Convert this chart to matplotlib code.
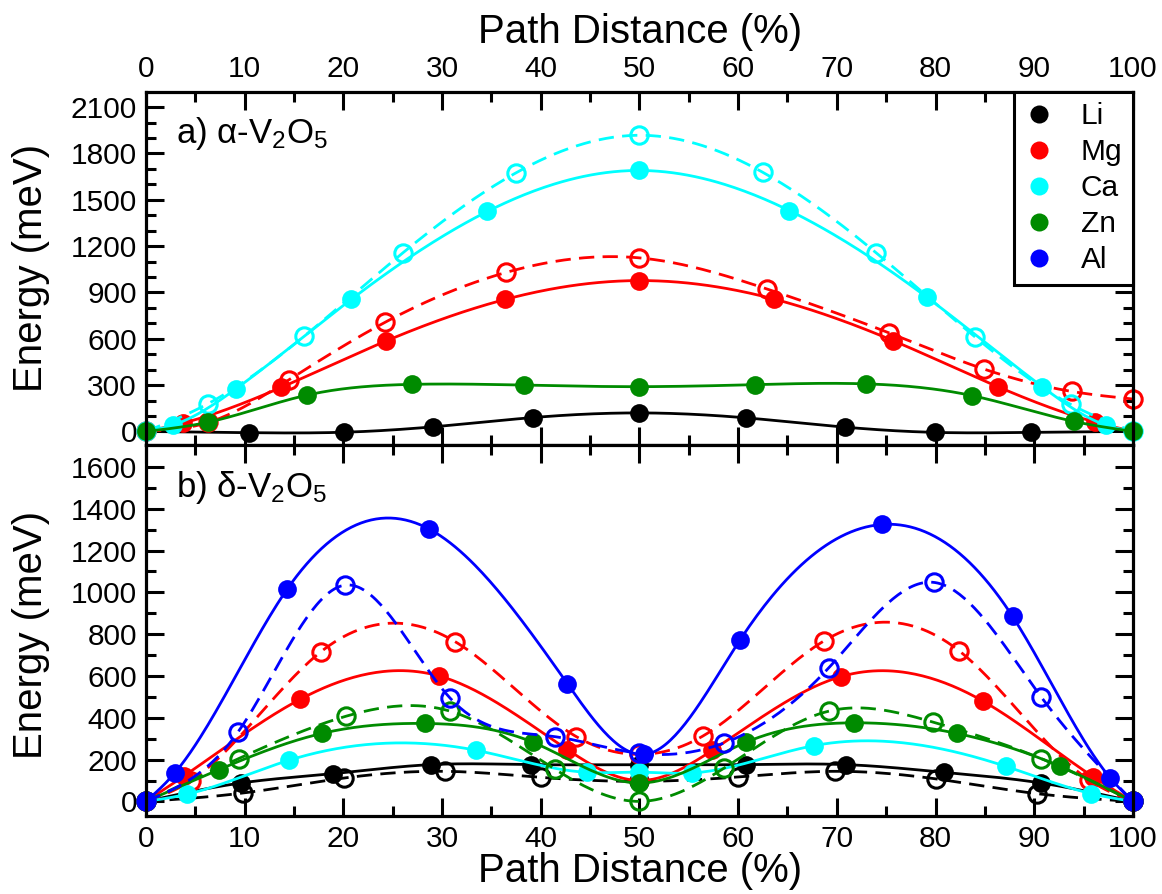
import numpy as np
import matplotlib.pyplot as plt
from matplotlib.lines import Line2D

plt.rcParams['font.family'] = ['Liberation Sans', 'DejaVu Sans']
plt.rcParams['mathtext.fontset'] = 'custom'
plt.rcParams['mathtext.rm'] = 'Liberation Sans'
plt.rcParams['mathtext.it'] = 'Liberation Sans:italic'
plt.rcParams['lines.scale_dashes'] = False

ions = ['Li', 'Mg', 'Ca', 'Zn', 'Al']
colors = {'Li': 'black', 'Mg': 'red', 'Ca': 'cyan', 'Zn': '#008b00', 'Al': 'blue'}

# a) alpha-V2O5 : filled = solid line, open = dashed line
a_li_x = [0, 10.4, 20.1, 29.1, 39.2, 50, 60.8, 70.8, 79.9, 89.7, 100]
a_li_y = [0, -8, -5, 30, 90, 120, 88, 28, -6, -6, 0]
a_mg_x = [0, 3.8, 13.7, 24.3, 36.4, 50, 63.6, 75.7, 86.3, 96.2, 100]
a_mg_y = [0, 55, 285, 585, 855, 977, 858, 588, 290, 60, 0]
a_mg_open_x = [0, 6.3, 14.5, 24.2, 36.5, 50, 62.9, 75.3, 84.9, 93.8, 100]
a_mg_open_y = [0, 58, 335, 706, 1030, 1124, 923, 638, 404, 259, 210]
a_ca_x = [0, 2.7, 9.1, 20.8, 34.6, 50, 65.2, 79.1, 90.8, 97.3, 100]
a_ca_y = [0, 40, 275, 855, 1425, 1690, 1430, 870, 290, 40, 0]
a_ca_open_x = [0, 6.3, 16.0, 26.0, 37.5, 50, 62.5, 74.0, 84.0, 93.7, 100]
a_ca_open_y = [0, 180, 615, 1155, 1675, 1918, 1678, 1156, 612, 175, 0]
a_zn_x = [0, 6.3, 16.3, 27.0, 38.3, 50, 61.7, 73.0, 83.7, 94.0, 100]
a_zn_y = [0, 60, 235, 305, 300, 290, 303, 308, 232, 65, 0]

# b) delta-V2O5
b_li_x = [0, 9.6, 19.0, 28.9, 39.0, 50, 60.8, 70.9, 80.9, 90.7, 100]
b_li_y = [0, 88, 133, 176, 176, 176, 176, 176, 139, 88, 0]
b_li_open_x = [0, 9.8, 20.1, 30.3, 40.0, 50, 60.0, 69.8, 80.0, 90.3, 100]
b_li_open_y = [0, 40, 112, 144, 115, 96, 117, 144, 108, 37, 0]
b_mg_x = [0, 3.9, 15.6, 29.7, 42.7, 50, 57.4, 70.4, 84.8, 96.0, 100]
b_mg_y = [0, 123, 488, 600, 248, 100, 245, 597, 480, 117, 0]
b_mg_open_x = [0, 4.6, 17.7, 31.3, 43.6, 50, 56.4, 68.7, 82.4, 95.5, 100]
b_mg_open_y = [0, 100, 715, 765, 310, 225, 312, 768, 720, 104, 0]
b_ca_x = [0, 4.2, 14.5, 33.4, 44.7, 50, 55.3, 67.7, 87.1, 95.8, 100]
b_ca_y = [0, 35, 197, 245, 139, 140, 136, 267, 168, 37, 0]
b_zn_x = [0, 7.4, 17.8, 28.3, 39.2, 50, 60.8, 71.7, 82.2, 92.6, 100]
b_zn_y = [0, 152, 325, 373, 283, 88, 283, 376, 325, 168, 0]
b_zn_open_x = [0, 9.4, 20.3, 30.8, 41.4, 50, 58.6, 69.2, 79.7, 90.7, 100]
b_zn_open_y = [0, 205, 408, 432, 155, 0, 160, 432, 380, 205, 0]
b_al_x = [0, 2.9, 14.3, 28.7, 42.7, 50.5, 60.2, 74.6, 87.8, 97.7, 100]
b_al_y = [0, 135, 1015, 1303, 563, 225, 773, 1325, 885, 112, 0]
b_al_open_x = [0, 9.3, 20.2, 30.8, 41.4, 50, 58.6, 69.2, 79.8, 90.7, 100]
b_al_open_y = [0, 330, 1035, 495, 310, 230, 280, 640, 1048, 500, 0]


def spline(x, y, n=400):
    # natural cubic spline through the points, for the smooth connecting line
    x = np.asarray(x, float)
    y = np.asarray(y, float)
    h = np.diff(x)
    m = len(x)
    A = np.zeros((m, m))
    r = np.zeros(m)
    A[0, 0] = A[-1, -1] = 1
    for i in range(1, m - 1):
        A[i, i - 1] = h[i - 1]
        A[i, i] = 2 * (h[i - 1] + h[i])
        A[i, i + 1] = h[i]
        r[i] = 3 * ((y[i + 1] - y[i]) / h[i] - (y[i] - y[i - 1]) / h[i - 1])
    c = np.linalg.solve(A, r)
    b = (y[1:] - y[:-1]) / h - h * (2 * c[:-1] + c[1:]) / 3
    d = (c[1:] - c[:-1]) / (3 * h)
    xs = np.linspace(x[0], x[-1], n)
    idx = np.clip(np.searchsorted(x, xs) - 1, 0, m - 2)
    t = xs - x[idx]
    return xs, y[idx] + b[idx] * t + c[idx] * t ** 2 + d[idx] * t ** 3


def draw(ax, x, y, color, filled):
    xs, ys = spline(x, y)
    if filled:
        ax.plot(xs, ys, '-', color=color, lw=2.0)
        ax.plot(x, y, 'o', color=color, ms=13.5, mew=0, clip_on=False)
    else:
        ax.plot(xs, ys, color=color, lw=2.0, dashes=(11, 6))
        ax.plot(x, y, 'o', mfc='none', mec=color, ms=12.5, mew=2.2, clip_on=False)


fig = plt.figure(figsize=(11.62, 8.94), dpi=100)
ax1 = fig.add_axes([0.1256, 0.5022, 0.8494, 0.3952])
ax2 = fig.add_axes([0.1256, 0.0872, 0.8494, 0.415])

draw(ax1, a_li_x, a_li_y, colors['Li'], True)
draw(ax1, a_mg_x, a_mg_y, colors['Mg'], True)
draw(ax1, a_mg_open_x, a_mg_open_y, colors['Mg'], False)
draw(ax1, a_ca_x, a_ca_y, colors['Ca'], True)
draw(ax1, a_ca_open_x, a_ca_open_y, colors['Ca'], False)
draw(ax1, a_zn_x, a_zn_y, colors['Zn'], True)

draw(ax2, b_li_x, b_li_y, colors['Li'], True)
draw(ax2, b_li_open_x, b_li_open_y, colors['Li'], False)
draw(ax2, b_mg_x, b_mg_y, colors['Mg'], True)
draw(ax2, b_mg_open_x, b_mg_open_y, colors['Mg'], False)
draw(ax2, b_ca_x, b_ca_y, colors['Ca'], True)
draw(ax2, b_zn_x, b_zn_y, colors['Zn'], True)
draw(ax2, b_zn_open_x, b_zn_open_y, colors['Zn'], False)
draw(ax2, b_al_x, b_al_y, colors['Al'], True)
draw(ax2, b_al_open_x, b_al_open_y, colors['Al'], False)

ax1.set_xlim(0, 100)
ax1.set_ylim(-88, 2200)
ax1.set_yticks(np.arange(0, 2101, 300))
ax1.set_yticks(np.arange(0, 2200, 100), minor=True)
ax2.set_xlim(0, 100)
ax2.set_ylim(-70, 1705)
ax2.set_yticks(np.arange(0, 1601, 200))
ax2.set_yticks(np.arange(0, 1700, 100), minor=True)

for ax in (ax1, ax2):
    ax.set_xticks(np.arange(0, 101, 10))
    ax.set_xticks(np.arange(0, 101, 5), minor=True)
    ax.tick_params(which='both', direction='in', top=True, right=True,
                   width=2.2, labelsize=21.5, pad=6.5)
    ax.tick_params(which='major', length=13)
    ax.tick_params(which='minor', length=7)
    for s in ax.spines.values():
        s.set_linewidth(2.3)

ax1.tick_params(axis='x', labelbottom=False, labeltop=True)
ax2.tick_params(axis='x', labelbottom=True, labeltop=False)

ax1.text(3, 1870, 'a) α-V$_2$O$_5$', fontsize=25)
ax2.text(3, 1455, 'b) δ-V$_2$O$_5$', fontsize=25)

handles = [Line2D([], [], marker='o', ls='none', color=colors[k], ms=13, mew=0) for k in ions]
leg = ax1.legend(handles, ions, loc='upper right', bbox_to_anchor=(1, 1),
                 borderaxespad=0, fontsize=21.5, fancybox=False, framealpha=1,
                 edgecolor='black', handlelength=1.0, handletextpad=0.9,
                 labelspacing=0.27, borderpad=0.35)
leg.get_frame().set_linewidth(2.2)

fig.text(0.027, 0.700, 'Energy (meV)', rotation=90, va='center', ha='center', fontsize=29)
fig.text(0.027, 0.290, 'Energy (meV)', rotation=90, va='center', ha='center', fontsize=29)
fig.text(0.551, 0.964, 'Path Distance (%)', va='center', ha='center', fontsize=29)
fig.text(0.551, 0.026, 'Path Distance (%)', va='center', ha='center', fontsize=29)

fig.savefig('out.png', dpi=100)
